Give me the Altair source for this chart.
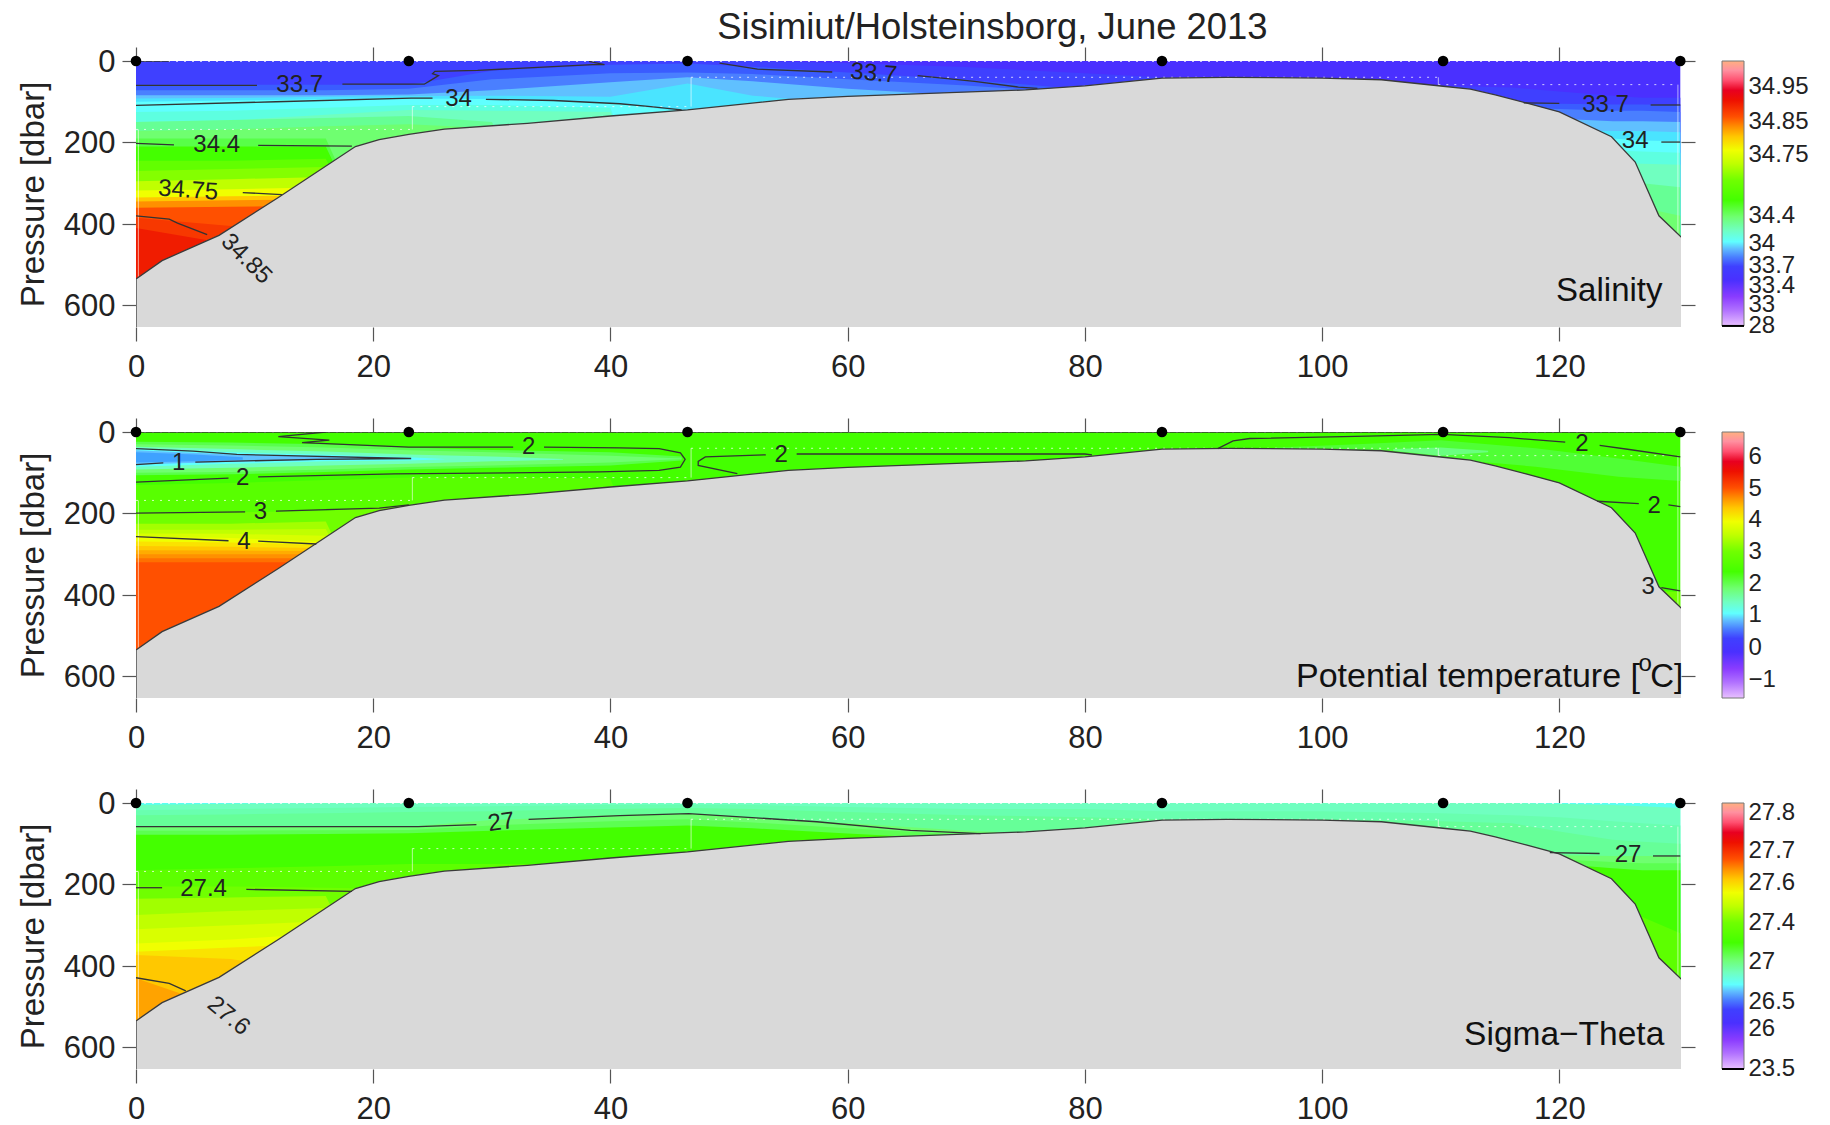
import altair as alt
import pandas as pd

FONT = "Liberation Sans"
H = 700
FLOOR = 640

# ---------- values ----------
title = "Sisimiut/Holsteinsborg, June 2013"
stations = [0, 23, 46.5, 86.5, 110.2, 130.2]
x_ticks = [0, 20, 40, 60, 80, 100, 120]
y_ticks = [0, 200, 400, 600]

bathy_x = [0, 0, 2.2, 7, 12, 18.5, 20.5, 23, 26, 33, 40, 46.5, 55, 60, 75, 80, 86.5, 92, 100, 105, 110.2, 112.5, 114.6, 117.2, 120, 124.4, 126.4, 128.4, 130.3]
bathy_p = [653, 535, 490, 428, 335, 210, 193, 180, 167, 153, 135, 120, 94, 87, 71, 61, 42, 40, 42, 46, 62, 69, 83, 103, 125, 186, 248, 380, 433]

palette = ["#e8c0ff", "#b070ff", "#8a3cff", "#4a30ff", "#3f40ff", "#4a7fff", "#60c0ff", "#60ffff", "#70ffc0", "#6fff70", "#44ff00",
           "#70ff00", "#c0ff00", "#f0ff00", "#ffc800", "#ff9000", "#ff5000", "#ee1000", "#e80020", "#ff5070", "#ff90a0", "#ffb080"]
bar_offsets = [0, .06, .11, .173, .224, .26, .293, .318, .362, .412, .475, .55, .613, .663, .714, .751, .789, .852, .889, .927, .965, 1]

sal_stops = [28, 31.5, 33.14, 33.47, 33.67, 33.80, 33.92, 34.01, 34.18, 34.38, 34.49, 34.60, 34.70, 34.76, 34.81, 34.83, 34.86, 34.91, 34.94, 34.97, 35.0, 35.03]
tem_stops = [-1.55, -1.07, -.62, -.12, .29, .57, .83, 1.03, 1.40, 1.82, 2.36, 2.99, 3.52, 3.93, 4.36, 4.67, 5.0, 5.52, 5.83, 6.15, 6.47, 6.76]
sig_stops = [23.48, 24.45, 25.28, 26.1, 26.35, 26.53, 26.63, 26.71, 26.86, 27.02, 27.2, 27.4, 27.49, 27.57, 27.61, 27.64, 27.67, 27.72, 27.75, 27.77, 27.8, 27.82]

sal_labels = [28, 33, 33.4, 33.7, 34, 34.4, 34.75, 34.85, 34.95]
sal_label_at = [.004, .085, .155, .232, .314, .418, .647, .774, .906]
tem_labels = [-1, 0, 1, 2, 3, 4, 5, 6]
tem_label_at = [.068, .188, .314, .432, .551, .671, .789, .909]
sig_labels = [23.5, 26, 26.5, 27, 27.4, 27.6, 27.7, 27.8]
sig_label_at = [.003, .153, .254, .405, .549, .70, .823, .965]

knots = [0, 8, 16, 23, 30, 40, 46.5, 52, 60, 70, 80, 86.5, 100, 110, 116, 120, 124.5, 127, 130.2]

sal_bands = [
    (33.47, [0] * 19),
    (33.67, [0, 0, 0, 0, 0, 0, 0, 0, 5, 15, 30, 40, 50, 60, 65, 75, 85, 90, 90]),
    (33.72, [58, 58, 58, 58, 24, 9, 6, 14, 28, 46, 70, 90, 100, 100, 103, 105, 107, 107, 108]),
    (33.80, [72, 72, 72, 68, 45, 30, 28, 32, 45, 60, 80, 90, 110, 112, 115, 118, 122, 122, 125]),
    (33.92, [84, 84, 84, 82, 72, 52, 40, 50, 68, 85, 95, 100, 130, 135, 140, 142, 148, 148, 150]),
    (33.97, [92, 91, 88, 86, 85, 88, 55, 85, 105, 120, 140, 150, 160, 165, 168, 170, 172, 172, 175]),
    (34.01, [100, 97, 94, 92, 93, 103, 125, H, H, H, H, H, H, H, 180, 185, 190, 195, 197]),
    (34.10, [125, 122, 115, 108, 108, 115, H, H, H, H, H, H, H, H, 210, 215, 220, 222, 225]),
    (34.18, [150, 146, 132, 120, 122, 125, H, H, H, H, H, H, H, H, 235, 240, 250, 252, 255]),
    (34.30, [150, 145, 140, 135, 150, H, H, H, H, H, H, H, H, H, H, H, 290, 300, 310]),
    (34.38, [172, 168, 160, 155, 165, H, H, H, H, H, H, H, H, H, H, H, 340, 360, 380]),
    (34.44, [190, 190, 190, H, H, H, H, H, H, H, H, H, H, H, H, H, H, H, H]),
    (34.49, [210, 210, 210, H, H, H, H, H, H, H, H, H, H, H, H, H, H, H, H]),
    (34.56, [245, 245, 240, H, H, H, H, H, H, H, H, H, H, H, H, H, H, H, H]),
    (34.62, [270, 265, 260, H, H, H, H, H, H, H, H, H, H, H, H, H, H, H, H]),
    (34.70, [295, 290, 285, H, H, H, H, H, H, H, H, H, H, H, H, H, H, H, H]),
    (34.76, [318, 315, 310, H, H, H, H, H, H, H, H, H, H, H, H, H, H, H, H]),
    (34.81, [335, 332, 330, H, H, H, H, H, H, H, H, H, H, H, H, H, H, H, H]),
    (34.83, [345, 342, 340, H, H, H, H, H, H, H, H, H, H, H, H, H, H, H, H]),
    (34.86, [360, 358, 355, H, H, H, H, H, H, H, H, H, H, H, H, H, H, H, H]),
    (34.885, [385, 405, 430, H, H, H, H, H, H, H, H, H, H, H, H, H, H, H, H]),
    (34.905, [410, 450, 480, H, H, H, H, H, H, H, H, H, H, H, H, H, H, H, H]),
]

tem_bands = [
    (2.36, [0] * 19),
    (2.60, [130, 125, 118, 112, 110, 115, H, H, H, H, H, H, H, H, H, H, H, H, H]),
    (2.99, [199, 197, 194, 179, H, H, H, H, H, H, H, H, H, H, H, H, H, 390, 392]),
    (3.30, [225, 225, 220, H, H, H, H, H, H, H, H, H, H, H, H, H, H, H, H]),
    (3.52, [240, 240, 238, H, H, H, H, H, H, H, H, H, H, H, H, H, H, H, H]),
    (3.72, [249, 250, 255, H, H, H, H, H, H, H, H, H, H, H, H, H, H, H, H]),
    (3.93, [257, 260, 270, H, H, H, H, H, H, H, H, H, H, H, H, H, H, H, H]),
    (4.15, [269, 271, 278, H, H, H, H, H, H, H, H, H, H, H, H, H, H, H, H]),
    (4.36, [280, 282, 285, H, H, H, H, H, H, H, H, H, H, H, H, H, H, H, H]),
    (4.52, [290, 291, 292, H, H, H, H, H, H, H, H, H, H, H, H, H, H, H, H]),
    (4.67, [300, 300, 300, H, H, H, H, H, H, H, H, H, H, H, H, H, H, H, H]),
    (4.85, [310, 310, 310, H, H, H, H, H, H, H, H, H, H, H, H, H, H, H, H]),
    (5.00, [320, 320, 320, H, H, H, H, H, H, H, H, H, H, H, H, H, H, H, H]),
]
# closed patches of the temperature panel: value, x, upper edge, lower edge
tem_patches = [
    (2.10, [0, 8, 16, 23, 30, 40, 46], [24, 26, 30, 38, 44, 50, 60], [106, 104, 98, 92, 88, 82, 70]),
    (1.82, [0, 8, 16, 23, 30, 40, 46], [30, 33, 38, 45, 50, 58, 65], [100, 98, 92, 86, 82, 75, 66]),
    (1.40, [0, 8, 16, 23, 30, 36], [36, 42, 48, 55, 60, 66], [92, 88, 82, 78, 72, 68]),
    (1.03, [0, 8, 16, 23, 26], [40, 50, 56, 62, 66], [85, 78, 72, 70, 67]),
    (.83, [0, 8, 16, 20], [45, 55, 60, 64], [80, 73, 68, 66]),
    (.70, [0, 5, 9], [50, 55, 62], [75, 72, 68]),
    (2.22, [96, 103, 110, 118, 125, 130.2], [38, 30, 20, 40, 65, 85], [40, 50, 65, 85, 110, 120]),
    (1.75, [106, 110, 114], [42, 38, 46], [46, 58, 50]),
]

sig_bands = [
    (26.75, [0] * 19),
    (26.86, [5, 2, 0, 0, 0, 0, 0, 0, 0, 0, 0, 0, 0, 0, 0, 2, 5, 8, 12]),
    (26.90, [18, 15, 12, 10, 8, 5, 4, 5, 10, 15, 15, 20, 20, 25, 30, 35, 45, 50, 55]),
    (26.95, [30, 28, 25, 22, 20, 15, 12, 15, 22, 30, 35, 40, 40, 45, 50, 70, 90, 95, 100]),
    (27.02, [58, 58, 58, 58, 42, 30, 26, 36, 50, 68, 80, 90, 100, 110, 120, 128, 130, 130, 130]),
    (27.10, [68, 68, 67, 66, 55, 45, 40, 48, 62, 78, 90, 100, 110, 120, 130, 139, 145, 148, 148]),
    (27.20, [78, 78, 76, 74, 68, 60, 55, 62, 75, 90, 100, 110, 120, 130, 140, 150, 160, 165, 165]),
    (27.30, [165, 160, 155, 150, 150, 150, H, H, H, H, H, H, H, H, H, H, 250, 280, 320]),
    (27.40, [205, 205, 208, 212, H, H, H, H, H, H, H, H, H, H, H, H, H, H, H]),
    (27.45, [235, 232, 228, H, H, H, H, H, H, H, H, H, H, H, H, H, H, H, H]),
    (27.49, [275, 265, 258, H, H, H, H, H, H, H, H, H, H, H, H, H, H, H, H]),
    (27.53, [310, 300, 290, H, H, H, H, H, H, H, H, H, H, H, H, H, H, H, H]),
    (27.57, [345, 335, 320, H, H, H, H, H, H, H, H, H, H, H, H, H, H, H, H]),
    (27.59, [365, 355, 345, H, H, H, H, H, H, H, H, H, H, H, H, H, H, H, H]),
    (27.61, [373, 383, 420, H, H, H, H, H, H, H, H, H, H, H, H, H, H, H, H]),
    (27.63, [430, 510, H, H, H, H, H, H, H, H, H, H, H, H, H, H, H, H, H]),
]

sal_contours = [
    ([0, 2.8], [0, 0]),
    ([0, 10.2], [60, 60]),
    ([17.4, 24.3, 24.7, 25.5, 25, 25.2, 28.8, 38.5, 39.5, 38.2], [57, 57, 50, 36, 31, 25.5, 23, 9, 9, 1]),
    ([49.2, 52.4, 58.7], [5, 20, 27]),
    ([65.9, 70.7, 74.4, 76], [36, 50, 64, 67]),
    ([117, 120], [103, 104]),
    ([127.7, 130.2], [108, 108]),
    ([0, 11.8, 23.2, 25], [109, 100, 91, 91]),
    ([29.5, 35.2, 40.8, 43.4, 46], [94, 97, 105, 112, 120]),
    ([128.6, 130.2], [199, 199]),
    ([0, 3.2], [202, 206]),
    ([10.3, 18.2], [207, 209]),
    ([9, 12.3], [323, 328]),
    ([0, 2.8, 3.5, 6], [380, 388, 398, 426]),
]
sal_texts = [("33.7", 13.8, 60, 0), ("34", 27.2, 94, 0), ("34.4", 6.8, 206, 0), ("34.75", 4.4, 318, 4),
             ("34.85", 9.3, 486, 45), ("33.7", 62.2, 31, 5), ("33.7", 123.9, 108, 0), ("34", 126.4, 197, 0)]

tem_contours = [
    ([0, 130.2], [0, 0]),
    ([16, 12, 16.3, 14, 23, 31.8], [0, 11.5, 20, 26, 37, 37]),
    ([34.4, 40.8, 44.1, 45.9, 46.3, 45.9, 44.1, 39.1, 21.8, 10.3], [37, 39, 41, 51, 67, 86, 94, 98, 103, 110]),
    ([7.8, 0], [113, 123]),
    ([50.7, 47.4, 47.4, 48, 53.1], [102, 82, 72, 61, 56]),
    ([55.7, 80, 80.6], [54, 54, 56]),
    ([91.2, 92.5, 93.9, 103.8, 110.1, 115.8, 120.5], [41, 22, 16, 10, 6, 14, 25]),
    ([123.4, 125.9, 130.2], [33, 43, 61]),
    ([123.2, 126.7], [170, 176]),
    ([129.2, 130.2], [179, 183]),
    ([128.6, 130.2], [382, 390]),
    ([0, 4.8, 8.5, 23.2, 15.2, 5], [41, 47, 55, 65, 67, 74]),
    ([2.3, 0], [76, 80]),
    ([0, 9.2], [199, 196]),
    ([11.8, 20.5, 23], [194, 187, 179]),
    ([0, 7.8], [257, 267]),
    ([10.3, 15.2], [268, 275]),
]
tem_texts = [("2", 33.1, 37, 0), ("1", 3.6, 76, 0), ("2", 9, 114, 0), ("3", 10.5, 196, 0), ("4", 9.1, 269, 0),
             ("2", 54.4, 57, 0), ("2", 121.9, 30, 0), ("2", 128, 181, 0), ("3", 127.5, 380, 0)]

sig_contours = [
    ([0, 23.8, 28.7], [58, 58, 53]),
    ([33.1, 40.8, 46.6, 57.4, 65.3, 71.2], [40, 31, 26, 46, 67, 75]),
    ([119.2, 123.4], [122, 124]),
    ([127.9, 130.2], [130, 130]),
    ([0, 2.2], [208, 208]),
    ([9.3, 18.2], [212, 217]),
    ([0, 2.8, 4.2], [429, 443, 461]),
]
sig_texts = [("27", 30.8, 48, -8), ("27", 125.8, 128, 0), ("27.4", 5.7, 212, 0), ("27.6", 7.8, 523, 40)]

dotted_x = [[0, 23.3], [23.3, 46.8], [46.8, 109.8], [109.8, 130], [0, 130]]
dotted_p = [[168, 168], [112, 112], [40, 40], [58, 58], [1, 1]]
solid_x = [[0.2, 0.2], [23.3, 23.3], [46.8, 46.8], [109.8, 109.8], [130, 130]]
solid_p = [[168, 530], [112, 168], [40, 112], [40, 58], [58, 433]]

sal_names = [("Salinity", 128.7, 565, 33)]
tem_names = [("Potential temperature [", 126.8, 602, 34), ("C]", 130.45, 602, 33), ("o", 127.8, 570, 24)]
sig_names = [("Sigma\u2212Theta", 128.85, 570, 33.5)]

# ---------- layout ----------
W, PH, BW = 1545, 266, 22
x_scale = alt.Scale(domain=[0, 130.26], nice=False, zero=False)
y_scale = alt.Scale(domain=[653, 0], nice=False, zero=False)
INK = "#222222"
TICK = "#555555"


def frame(lists):
    rows = []
    for seg, (xs, ps) in enumerate(lists):
        for i, (a, b) in enumerate(zip(xs, ps)):
            rows.append({"seg": seg, "i": i, "x": a, "p": b})
    return pd.DataFrame(rows)


def band_frame(bands, patches):
    rows = []
    n = 0
    for v, tops in bands:
        for a, b in zip(knots, tops):
            rows.append({"band": f"b{n:03d}", "v": v, "x": a, "p": min(b, FLOOR), "p2": FLOOR})
        n += 1
    for v, xs, tops, bots in patches:
        for a, b, c in zip(xs, tops, bots):
            rows.append({"band": f"b{n:03d}", "v": v, "x": a, "p": b, "p2": c})
        n += 1
    return pd.DataFrame(rows)


X = alt.X("x:Q", scale=x_scale, axis=None)
Y = alt.Y("p:Q", scale=y_scale, axis=None)


def panel(bands, patches, stops, contours, texts, names):
    color = alt.Color("v:Q", scale=alt.Scale(domain=stops, range=palette), legend=None)
    fill = alt.Chart(band_frame(bands, patches)).mark_area(clip=True, opacity=1).encode(
        x=X, y=Y, y2="p2:Q", color=color, detail="band:N")
    dots_h = alt.Chart(frame([(a, b) for a, b in zip(dotted_x, dotted_p)])).mark_line(
        color="white", strokeWidth=1, strokeDash=[2, 6], opacity=.75, clip=True).encode(x=X, y=Y, detail="seg:N")
    solid_v = alt.Chart(frame([(a, b) for a, b in zip(solid_x, solid_p)])).mark_line(
        color="white", strokeWidth=1, opacity=.6, clip=True).encode(x=X, y=Y, detail="seg:N")
    bdf = pd.DataFrame({"x": bathy_x, "p": bathy_p, "p2": [H] * len(bathy_x), "i": range(len(bathy_x))})
    ground = alt.Chart(bdf.iloc[1:]).mark_area(color="#d9d9d9", clip=True).encode(x=X, y=Y, y2="p2:Q")
    shore = alt.Chart(bdf).mark_line(color="#3a3a3a", strokeWidth=1.3, clip=True).encode(x=X, y=Y, order="i:Q")
    lines = alt.Chart(frame(contours)).mark_line(color="#333333", strokeWidth=1.3, clip=True).encode(
        x=X, y=Y, detail="seg:N", order="i:Q")
    tdf = pd.DataFrame(texts, columns=["t", "x", "p", "a"])
    tlab = alt.Chart(tdf).mark_text(font=FONT, fontSize=24, color=INK).encode(
        x=X, y=Y, text="t:N", angle=alt.Angle("a:Q", scale=None))
    ndf = pd.DataFrame(names, columns=["t", "x", "p", "s"])
    nlab = alt.Chart(ndf).mark_text(font=FONT, color="#111111", align="right").encode(
        x=X, y=Y, text="t:N", size=alt.Size("s:Q", scale=None, legend=None))
    sdf = pd.DataFrame({"x": stations, "p": [0] * len(stations)})
    axis_common = dict(domain=False, ticks=True, tickSize=14, tickColor=TICK, tickWidth=1.2, grid=False)
    main_ax = alt.Chart(sdf).mark_circle(color="black", size=113, opacity=1).encode(
        x=alt.X("x:Q", scale=x_scale, title=None,
                axis=alt.Axis(values=x_ticks, orient="bottom", labelFont=FONT, labelFontSize=31, labelColor=INK,
                              labelPadding=11, format="d", labelOverlap=False, labelFlush=False, **axis_common)),
        y=alt.Y("p:Q", scale=y_scale, title="Pressure [dbar]",
                axis=alt.Axis(values=y_ticks, orient="left", labelFont=FONT, labelFontSize=31, labelColor=INK,
                              labelPadding=7, labelOffset=1.5, format="d", labelOverlap=False, labelFlush=False,
                              titleFont=FONT, titleFontSize=33,
                              titleColor=INK, titleFontWeight="normal", titlePadding=13, **axis_common)))
    other_ax = alt.Chart(sdf).mark_circle(opacity=0).encode(
        x=alt.X("x:Q", scale=x_scale, title=None,
                axis=alt.Axis(values=x_ticks, orient="top", labels=False, **axis_common)),
        y=alt.Y("p:Q", scale=y_scale, title=None,
                axis=alt.Axis(values=y_ticks, orient="right", labels=False, **axis_common)))
    return alt.layer(other_ax, fill, dots_h, solid_v, ground, shore, lines, tlab, nlab, main_ax).resolve_axis(
        x="independent", y="independent").properties(width=W, height=PH)


def colour_bar(labels, label_at, stops, under):
    dom = [stops[0]] + labels + [stops[-1]]
    at = [0] + label_at + [1]
    pairs = sorted(set(zip(dom, at)))
    scale = alt.Scale(domain=[a for a, _ in pairs], range=[PH * (1 - b) for _, b in pairs], nice=False, zero=False)
    grad = alt.Gradient(gradient="linear", x1=0, x2=0, y1=1, y2=0,
                        stops=[alt.GradientStop(offset=o, color=c) for o, c in zip(bar_offsets, palette)])
    df = pd.DataFrame({"a": [stops[0]], "b": [stops[-1]]})
    rect = alt.Chart(df).mark_rect(color=grad, stroke="#777777", strokeWidth=1).encode(
        x=alt.value(0), x2=alt.value(BW),
        y=alt.Y("a:Q", scale=scale, title=None,
                axis=alt.Axis(values=labels, orient="right", domain=False, ticks=False, grid=False, labelFont=FONT,
                              labelFontSize=24, labelColor=INK, labelPadding=4, labelOverlap=False, labelBound=False,
                              labelFlush=False, labelExpr="replace('' + datum.value, '-', '\u2212')")),
        y2="b:Q")
    out = rect
    if under:
        base = alt.Chart(df).mark_rule(color="black", strokeWidth=2).encode(
            x=alt.value(0), x2=alt.value(BW), y=alt.Y("a:Q", scale=scale, axis=None))
        out = alt.layer(rect, base).resolve_axis(y="independent")
    return out.properties(width=BW, height=PH)


rows = [
    alt.hconcat(panel(sal_bands, [], sal_stops, sal_contours, sal_texts, sal_names),
                colour_bar(sal_labels, sal_label_at, sal_stops, True), spacing=25).resolve_scale(color="independent"),
    alt.hconcat(panel(tem_bands, tem_patches, tem_stops, tem_contours, tem_texts, tem_names),
                colour_bar(tem_labels, tem_label_at, tem_stops, False), spacing=25).resolve_scale(color="independent"),
    alt.hconcat(panel(sig_bands, [], sig_stops, sig_contours, sig_texts, sig_names),
                colour_bar(sig_labels, sig_label_at, sig_stops, True), spacing=25).resolve_scale(color="independent"),
]

chart = alt.vconcat(*rows, spacing=35).resolve_scale(color="independent").properties(
    title=alt.TitleParams(text=title, font=FONT, fontSize=36.4, fontWeight="normal", color=INK,
                          anchor="start", dx=700, offset=0),
    padding={"left": 9, "top": 2, "right": 0, "bottom": 0},
).configure_view(stroke=None)

chart.save("out.html", embed_options={"renderer": "svg", "actions": False})
